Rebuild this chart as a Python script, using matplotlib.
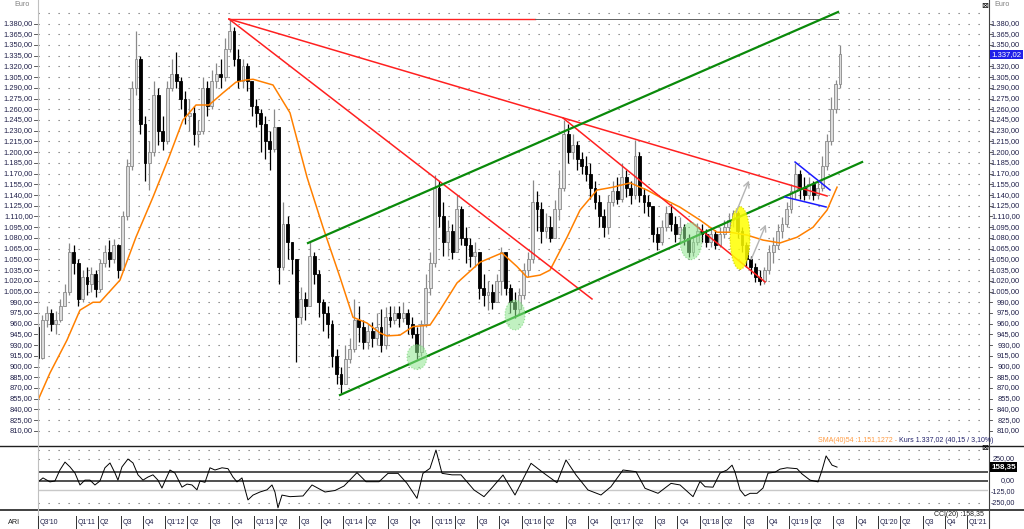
import numpy as np
import matplotlib
matplotlib.use("Agg")
import matplotlib.pyplot as plt
import matplotlib.transforms as mtransforms
from matplotlib.lines import Line2D
from matplotlib.patches import Ellipse

plt.rcParams['font.family'] = ['Liberation Sans', 'DejaVu Sans']

# candle closes / highs / lows, one candle every 0.05 year from Jul 2010
first_open = 955
close = [912, 965, 975, 960, 965, 985, 1005, 1060, 1045, 995,
         1025, 1015, 1030, 1008, 1045, 1060, 1050, 1070, 1035, 1110,
         1180, 1290, 1330, 1240, 1185, 1200, 1280, 1230, 1215, 1290,
         1310, 1300, 1275, 1250, 1255, 1225, 1230, 1290, 1265, 1300,
         1310, 1305, 1345, 1370, 1330, 1300, 1320, 1300, 1265, 1255,
         1240, 1215, 1205, 1235, 1040, 1100, 1075, 1050, 970, 995,
         985, 1055, 1030, 990, 975, 960, 915, 890, 875, 910,
         925, 965, 955, 935, 950, 940, 955, 930, 970, 965,
         975, 968, 975, 960, 945, 920, 960, 1010, 1045, 1150,
         1110, 1075, 1090, 1060, 1120, 1080, 1070, 1055, 1060, 1010,
         1000, 1005, 990, 1020, 1060, 1010, 990, 980, 1000, 1035,
         1050, 1130, 1120, 1090, 1095, 1080, 1120, 1150, 1225, 1200,
         1210, 1190, 1180, 1170, 1150, 1130, 1110, 1095, 1130, 1145,
         1135, 1165, 1150, 1140, 1195, 1140, 1130, 1125, 1085, 1075,
         1095, 1115, 1100, 1085, 1095, 1080, 1060, 1075, 1090, 1085,
         1075, 1085, 1070, 1085, 1095, 1105, 1115, 1090, 1070, 1050,
         1040, 1025, 1020, 1035, 1060, 1070, 1090, 1100, 1120, 1145,
         1170, 1150, 1140, 1155, 1140, 1150, 1180, 1215, 1260, 1295,
         1337]
high = [958, 972, 985, 980, 978, 995, 1015, 1073, 1070, 1050,
        1035, 1040, 1040, 1035, 1050, 1070, 1077, 1078, 1072, 1118,
        1190, 1300, 1370, 1335, 1250, 1215, 1300, 1290, 1250, 1300,
        1330, 1340, 1305, 1285, 1275, 1265, 1245, 1305, 1300, 1315,
        1325, 1330, 1360, 1385, 1375, 1345, 1330, 1325, 1290, 1275,
        1260, 1250, 1230, 1260, 1225, 1130, 1110, 1075, 1050, 1011,
        1005, 1074, 1060, 1035, 995, 985, 965, 925, 900, 930,
        940, 995, 985, 965, 960, 962, 975, 980, 983, 985,
        985, 985, 990, 980, 970, 955, 965, 1030, 1060, 1168,
        1160, 1130, 1105, 1100, 1140, 1125, 1095, 1080, 1075, 1060,
        1030, 1020, 1015, 1030, 1067, 1050, 1015, 1005, 1010, 1045,
        1060, 1161, 1145, 1130, 1115, 1110, 1133, 1175, 1245, 1240,
        1225, 1215, 1200, 1195, 1185, 1160, 1140, 1120, 1140, 1160,
        1165, 1185, 1175, 1160, 1217, 1200, 1150, 1140, 1125, 1095,
        1105, 1125, 1128, 1110, 1109, 1100, 1085, 1081, 1101, 1100,
        1092, 1095, 1091, 1095, 1105, 1115, 1119, 1118, 1095, 1075,
        1055, 1045, 1035, 1040, 1070, 1081, 1100, 1109, 1130, 1155,
        1185, 1175, 1165, 1165, 1160, 1160, 1195, 1225, 1277, 1301,
        1350]
low = [905, 910, 955, 950, 945, 962, 985, 1000, 1030, 985,
       990, 1000, 1005, 998, 1005, 1040, 1040, 1045, 1024, 1035,
       1105, 1175, 1280, 1225, 1160, 1147, 1195, 1210, 1203, 1212,
       1285, 1290, 1260, 1240, 1230, 1210, 1207, 1225, 1250, 1260,
       1290, 1290, 1300, 1340, 1320, 1290, 1290, 1285, 1250, 1235,
       1200, 1190, 1175, 1200, 1016, 1035, 1050, 1030, 907, 960,
       965, 985, 1015, 970, 950, 940, 900, 875, 863, 895,
       905, 920, 935, 925, 925, 928, 930, 920, 925, 955,
       960, 955, 962, 945, 940, 910, 915, 955, 1000, 1040,
       1095, 1055, 1055, 1050, 1060, 1070, 1045, 1040, 1040, 995,
       985, 979, 980, 990, 1000, 1000, 975, 968, 972, 995,
       1025, 1045, 1090, 1073, 1080, 1075, 1085, 1105, 1145, 1185,
       1190, 1175, 1170, 1160, 1135, 1120, 1095, 1081, 1085, 1125,
       1128, 1130, 1137, 1128, 1135, 1130, 1115, 1110, 1075, 1063,
       1070, 1090, 1090, 1075, 1073, 1070, 1053, 1055, 1070, 1075,
       1068, 1067, 1065, 1067, 1080, 1090, 1095, 1080, 1060, 1040,
       1030, 1018, 1014, 1015, 1030, 1045, 1065, 1080, 1095, 1115,
       1135, 1135, 1133, 1135, 1133, 1135, 1145, 1175, 1210, 1255,
       1290]
T0, STEP = 2010.574, 0.05

# SMA(40)
sma_t = [2010.574, 2010.708, 2010.899, 2011.045, 2011.191, 2011.269, 2011.494, 2011.673,
         2011.864, 2012.044, 2012.201, 2012.347, 2012.493, 2012.650, 2012.796, 2012.908,
         2012.987, 2013.211, 2013.402, 2013.593, 2013.772, 2013.963, 2014.109, 2014.266,
         2014.412, 2014.490, 2014.636, 2014.782, 2014.973, 2015.085, 2015.276, 2015.534,
         2015.781, 2015.949, 2016.062, 2016.208, 2016.320, 2016.511, 2016.657, 2016.847,
         2017.027, 2017.218, 2017.409, 2017.555, 2017.779, 2018.003, 2018.194, 2018.340,
         2018.531, 2018.710, 2018.901, 2019.092, 2019.272, 2019.429, 2019.541]
sma_v = [853, 891, 937, 979, 990, 990, 1021, 1081,
         1137, 1193, 1245, 1266, 1266, 1283, 1298, 1301,
         1302, 1294, 1255, 1165, 1095, 1025, 969, 961,
         947, 943, 944, 956, 958, 979, 1017, 1046,
         1059, 1040, 1025, 1028, 1035, 1081, 1119, 1147,
         1151, 1157, 1147, 1137, 1123, 1105, 1088, 1088,
         1084, 1077, 1073, 1081, 1095, 1119, 1151]

# CCI(20)
cci_t = [2010.574, 2010.630, 2010.708, 2010.764, 2010.820, 2010.877, 2010.933, 2010.989,
         2011.045, 2011.101, 2011.157, 2011.213, 2011.269, 2011.325, 2011.382, 2011.438,
         2011.471, 2011.516, 2011.584, 2011.640, 2011.696, 2011.752, 2011.808, 2011.864,
         2011.920, 2011.965, 2011.999, 2012.055, 2012.111, 2012.190, 2012.246, 2012.302,
         2012.358, 2012.392, 2012.448, 2012.504, 2012.560, 2012.639, 2012.706, 2012.762,
         2012.807, 2012.863, 2012.930, 2012.987, 2013.065, 2013.144, 2013.200, 2013.233,
         2013.267, 2013.312, 2013.402, 2013.548, 2013.649, 2013.795, 2013.907, 2014.008,
         2014.154, 2014.255, 2014.401, 2014.502, 2014.614, 2014.715, 2014.827, 2014.894,
         2014.973, 2015.040, 2015.108, 2015.220, 2015.321, 2015.467, 2015.579, 2015.680,
         2015.792, 2015.927, 2016.107, 2016.253, 2016.398, 2016.499, 2016.612, 2016.746,
         2016.892, 2017.004, 2017.139, 2017.285, 2017.386, 2017.532, 2017.678, 2017.779,
         2017.925, 2018.003, 2018.060, 2018.149, 2018.228, 2018.306, 2018.363, 2018.396,
         2018.452, 2018.508, 2018.565, 2018.643, 2018.710, 2018.767, 2018.845, 2018.901,
         2018.980, 2019.092, 2019.148, 2019.238, 2019.328, 2019.373, 2019.418, 2019.485,
         2019.541]
cci_v = [-10, 35, -10, 0, 125, 215, 160, 90,
         -45, 10, 10, -45, 0, 150, 205, 90,
         10, 160, 250, 205, 70, 10, 45, 70,
         10, -80, 0, 125, 90, -70, -35, -45,
         -100, 0, -15, 150, 125, 150, 140, 45,
         -10, 35, -215, -160, -125, -100, -45, -125,
         -305, -160, -178, -170, -45, -125, -108, -57,
         95, -8, -8, 87, 87, -27, -197, 87,
         144, 352, 87, 70, 70, -102, -178, -64,
         68, -159, 201, 87, -19, 239, 68, -102,
         -159, -64, 125, 106, -83, -140, -27, -45,
         -178, -5, -65, -70, 90, 125, 180, 100,
         -100, -170, -140, -140, -80, 90, 100, 135,
         150, 140, 80, 10, -10, 125, 285, 180,
         158]

# hand-drawn trend lines (date, price)
red_lines = [((2012.717, 1386.3), (2019.429, 1138.7)),
             ((2012.717, 1386.3), (2016.791, 994.6)),
             ((2016.466, 1247.8), (2018.733, 1018.4))]
green_lines = [((2013.604, 1072.9), (2019.552, 1396.1)),
               ((2013.963, 860.2), (2019.822, 1186.2))]
blue_lines = [((2019.070, 1186.2), (2019.462, 1147.1)),
              ((2018.957, 1137.3), (2019.418, 1123.3))]


def de(v):
    s = f"{v:,.2f}"
    return s.replace(",", "X").replace(".", ",").replace("X", ".")


W, H = 1024, 529
fig = plt.figure(figsize=(W / 100, H / 100), dpi=100)
fig.patch.set_facecolor('white')
ax = fig.add_axes([38 / W, 1 - 446 / H, 950 / W, 446 / H])
ax2 = fig.add_axes([38 / W, 1 - 510 / H, 950 / W, 64 / H])
XMIN, XMAX = 2010.574, 2021.235
for a in (ax, ax2):
    a.set_xlim(XMIN, XMAX)
    for s in a.spines.values():
        s.set_visible(False)
    a.set_xticks([])
    a.set_yticks([])
    a.patch.set_alpha(0)
ax.set_ylim(788.9, 1412.9)
ax2.set_ylim(-329.5, 397.7)

# dotted grid
for v in range(810, 1400, 15):
    ax.axhline(v, color='#707070', lw=0.8, ls=(0, (1.1, 7.9)), zorder=0)
for v in (350, 250, -250):
    ax2.axhline(v, color='#707070', lw=0.8, ls=(0, (1.1, 7.9)), zorder=0)

# candles
t = T0 + STEP * np.arange(len(close))
o = np.array([first_open] + close[:-1], dtype=float)
c = np.array(close, dtype=float)
up = c >= o
bw = 0.032
ax.vlines(t[up], np.array(low)[up], np.array(high)[up], color='#8a8a8a', lw=0.9, zorder=2)
ax.vlines(t[~up], np.array(low)[~up], np.array(high)[~up], color='black', lw=0.9, zorder=2)
ax.bar(t[up], c[up] - o[up], bottom=o[up], width=bw, color='#dcdcdc', edgecolor='#8a8a8a', lw=0.6, zorder=3)
ax.bar(t[~up], o[~up] - c[~up], bottom=c[~up], width=bw, color='black', edgecolor='black', lw=0.6, zorder=3)

# SMA
ax.plot(sma_t, sma_v, color='#ff8000', lw=1.1, zorder=4)

# trend lines
ax.plot([2012.717, 2016.151], [1386.3, 1386.3], color='#ff2020', lw=1.0, zorder=5)
ax.plot([2016.151, 2019.552], [1386.3, 1386.3], color='#606060', lw=0.7, zorder=5)
for (a0, a1) in red_lines:
    ax.plot([a0[0], a1[0]], [a0[1], a1[1]], color='#ff2020', lw=1.1, zorder=5)
for (a0, a1) in green_lines:
    ax.plot([a0[0], a1[0]], [a0[1], a1[1]], color='#0a8a0a', lw=1.6, zorder=5)
for (a0, a1) in blue_lines:
    ax.plot([a0[0], a1[0]], [a0[1], a1[1]], color='#1a1aff', lw=1.1, zorder=5)

# highlighted zones
for (cx, cy, ew, eh) in [(2014.827, 913.4, 0.2245, 35), (2015.927, 972.2, 0.2245, 42),
                         (2017.902, 1075.7, 0.247, 52)]:
    ax.add_patch(Ellipse((cx, cy), ew, eh, facecolor='#8ee68e', alpha=0.55,
                         edgecolor='#5cc85c', ls=':', lw=0.8, zorder=6))
ax.add_patch(Ellipse((2018.452, 1079.9), 0.2245, 88, facecolor='#ffff00', alpha=0.85,
                     edgecolor='#c8c800', ls=':', lw=0.8, zorder=6))
for (p0, p1) in [((2018.396, 1112.1), (2018.565, 1163.9)),
                 ((2018.565, 1046.3), (2018.755, 1102.3))]:
    ax.annotate('', xy=p1, xytext=p0,
                arrowprops=dict(arrowstyle='->', color='#b4b4b4', lw=1.0), zorder=7)

# CCI
ax2.axhline(100, color='#202020', lw=1.1)
ax2.axhline(0, color='#202020', lw=1.1)
ax2.axhline(-100, color='#c8c8c8', lw=1.0)
ax2.plot(cci_t, cci_v, color='black', lw=0.7)

# frame lines
fig.add_artist(Line2D([0, 1], [1 - 446 / H] * 2, color='#202020', lw=1.0))
fig.add_artist(Line2D([0, 1], [1 - 510 / H] * 2, color='#202020', lw=1.2))
fig.add_artist(Line2D([37.5 / W] * 2, [0, 1], color='#c0c0c0', lw=0.8))
fig.add_artist(Line2D([988.5 / W] * 2, [0, 1], color='#404040', lw=0.8))

# y labels main
tf = mtransforms.blended_transform_factory(fig.transFigure, ax.transData)
lab = '#20204a'
for v in range(810, 1381, 15):
    fig.text(33 / W, v, de(v), transform=tf, ha='right', va='center', fontsize=5.4, color=lab)
    fig.add_artist(Line2D([34 / W, 37 / W], [v, v], transform=tf, color='#404040', lw=0.6))
    if v != 1335:
        fig.text(1020 / W, v, de(v), transform=tf, ha='right', va='center', fontsize=5.4, color=lab)
    fig.add_artist(Line2D([989 / W, 992 / W], [v, v], transform=tf, color='#404040', lw=0.6))
fig.text(991.5 / W, 1337.02, de(1337.02), transform=tf, ha='left', va='center', fontsize=5.6,
         color='white', bbox=dict(facecolor='#2020e8', edgecolor='none', pad=0.8))

# y labels CCI
tf2 = mtransforms.blended_transform_factory(fig.transFigure, ax2.transData)
for v in (250, 0, -125, -250):
    fig.text(1015 / W, v, de(v), transform=tf2, ha='right', va='center', fontsize=5.2, color=lab)
fig.text(991 / W, 158.35, '158,35', transform=tf2, ha='left', va='center', fontsize=5.8,
         color='white', fontweight='bold', bbox=dict(facecolor='black', edgecolor='none', pad=0.8))

# header texts
fig.text(30 / W, 1 - 5 / H, 'Euro', ha='right', va='center', fontsize=5.2, color='#808080')
fig.text(994 / W, 1 - 5 / H, 'Euro', ha='left', va='center', fontsize=5.2, color='#808080')
fig.text(985 / W, 1 - 5 / H, '\u22a0', ha='center', va='center', fontsize=6, color='black',
         family='DejaVu Sans')
fig.text(985 / W, 1 - 448 / H, '\u22a0', ha='center', va='center', fontsize=6, color='black',
         family='DejaVu Sans')
t1 = fig.text(818 / W, 1 - 440 / H, 'SMA(40)54 :1.151,1272 - ', ha='left', va='center',
              fontsize=5.0, color='#ff9a40')
fig.canvas.draw()
bb = t1.get_window_extent()
fig.text(bb.x1 / W, 1 - 440 / H, 'Kurs 1.337,02 (40,15 / 3,10%)', ha='left', va='center',
         fontsize=5.0, color='#20206a')
fig.text(984 / W, 1 - 514 / H, 'CCI(20) :158,35', ha='right', va='center', fontsize=5.0,
         color='#202020')
fig.text(8 / W, 1 - 522 / H, 'ARI', ha='left', va='center', fontsize=5.2, color='#202020')

# quarter axis
tfx = mtransforms.blended_transform_factory(ax2.transData, fig.transFigure)
qs = [(XMIN, "Q3'10")]
for yr in range(2011, 2022):
    for q in range(4):
        tq = yr + q * 0.25
        if tq > 2021.01:
            break
        qs.append((tq, f"Q1'{yr % 100:02d}" if q == 0 else f"Q{q + 1}"))
for tq, s in qs:
    fig.add_artist(Line2D([tq, tq], [1 - 516 / H, 1 - 529 / H], transform=tfx,
                          color='#303030', lw=0.7))
    fig.text(tq + 0.02, 1 - 523 / H, s, transform=tfx, ha='left', va='center',
             fontsize=5.0, color='#20204a')

fig.savefig('out.png', dpi=100)
